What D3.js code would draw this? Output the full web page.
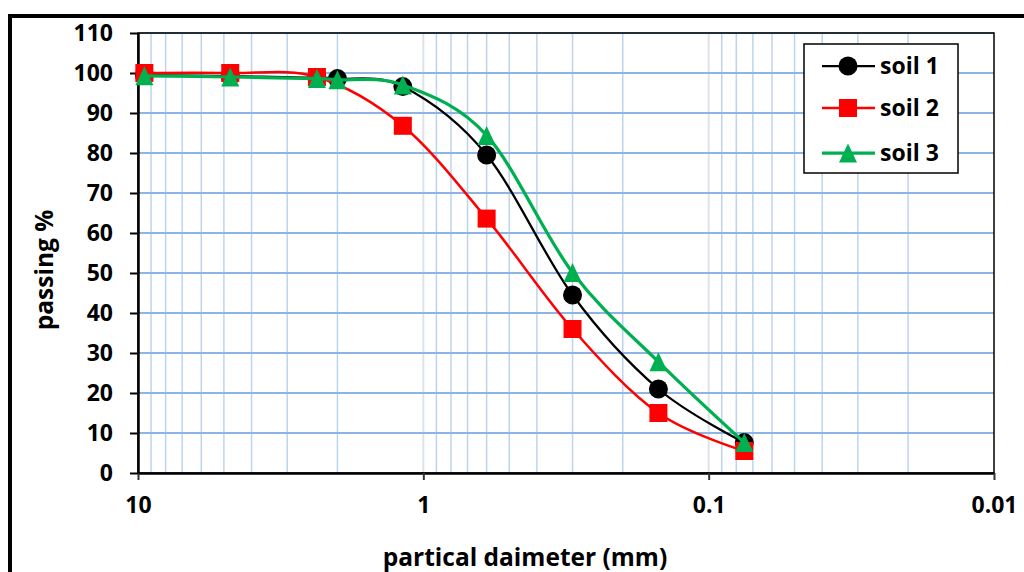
<!DOCTYPE html>
<html>
<head>
<meta charset="utf-8">
<script src="https://cdn.jsdelivr.net/npm/d3@7"></script>
<style>
  body { margin: 0; background: #fff; }
  text { font-family: "Open Sans", "Noto Sans", sans-serif; font-weight: bold; fill: #000; }
</style>
</head>
<body>
<svg id="chart" width="1024" height="572"></svg>
<script>
// sieve sizes (mm) and percent passing
var sieves = [9.5, 4.75, 2.36, 2.0, 1.18, 0.6, 0.3, 0.15, 0.075];
var soil1 = [99.5, 99.2, 98.8, 98.6, 96.6, 79.5, 44.5, 21, 7.6];
var soil2 = [100, 100, 99, null, 86.8, 63.6, 36, 15, 5.5];
var soil3 = [99.3, 99, 98.6, 98.3, 97, 84.4, 50.1, 27.8, 7.6];
var seriesNames = ["soil 1", "soil 2", "soil 3"];
var xTicks = [10, 1, 0.1, 0.01];
var yTicks = [0, 10, 20, 30, 40, 50, 60, 70, 80, 90, 100, 110];

var svg = d3.select("#chart");
var pLeft = 138, pRight = 994, pTop = 33, pBottom = 473;

var x = d3.scaleLog().domain([10, 0.01]).range([pLeft, pRight]);
var y = d3.scaleLinear().domain([0, 110]).range([pBottom, pTop]);

// outer chart frame (only top and left edges are inside the picture)
svg.append("path")
    .attr("d", "M10,580 L10,16 L1030,16")
    .attr("fill", "none")
    .attr("stroke", "#000")
    .attr("stroke-width", 4);

// vertical grid: minor lines inside each decade, majors light grey
var minor = [];
[1, 0.1, 0.01].forEach(function(base){
    for (var k = 2; k <= 9; k++) minor.push(k * base);
});
var grid = svg.append("g");
grid.selectAll(".vminor").data(minor).enter()
    .append("line")
    .attr("x1", function(d){return x(d)})
    .attr("x2", function(d){return x(d)})
    .attr("y1", pTop).attr("y2", pBottom)
    .attr("stroke", "#bdd4ee")
    .attr("stroke-width", 1.5);
grid.selectAll(".vmajor").data([1, 0.1]).enter()
    .append("line")
    .attr("x1", function(d){return x(d)})
    .attr("x2", function(d){return x(d)})
    .attr("y1", pTop).attr("y2", pBottom)
    .attr("stroke", "#dde3ea")
    .attr("stroke-width", 2);
grid.selectAll(".hgrid").data(yTicks.slice(1)).enter()
    .append("line")
    .attr("x1", pLeft).attr("x2", pRight)
    .attr("y1", function(d){return y(d)})
    .attr("y2", function(d){return y(d)})
    .attr("stroke", "#8eb4e3")
    .attr("stroke-width", 2);

// plot border
svg.append("rect")
    .attr("x", pLeft).attr("y", pTop)
    .attr("width", pRight - pLeft).attr("height", pBottom - pTop)
    .attr("fill", "none")
    .attr("stroke", "#000")
    .attr("stroke-width", 1.5);

// axes
var xAxis = svg.append("g")
    .attr("transform", "translate(0," + pBottom + ")")
    .call(d3.axisBottom(x).tickValues(xTicks).tickSize(7).tickSizeOuter(0)
        .tickFormat(function(d){return String(d)}));
xAxis.select(".domain").attr("stroke-width", 2.5);
xAxis.selectAll(".tick line").attr("stroke-width", 2).attr("stroke", "#333");
xAxis.selectAll(".tick text")
    .attr("font-size", 23).attr("y", 24).attr("dy", "0.71em")
    .attr("font-family", null);

var yAxis = svg.append("g")
    .attr("transform", "translate(" + pLeft + ",0)")
    .call(d3.axisLeft(y).tickValues(yTicks).tickSize(8).tickSizeOuter(0));
yAxis.select(".domain").attr("stroke-width", 2.5);
yAxis.selectAll(".tick line").attr("stroke-width", 2);
yAxis.selectAll(".tick text")
    .attr("font-size", 23).attr("x", -25)
    .attr("font-family", null);

// axis titles
svg.append("text")
    .attr("x", 525).attr("y", 566)
    .attr("text-anchor", "middle")
    .attr("font-size", 24.5)
    .text("partical daimeter (mm)");
svg.append("text")
    .attr("transform", "translate(53,270) rotate(-90)")
    .attr("text-anchor", "middle")
    .attr("font-size", 24.5)
    .text("passing %");

// series
var colors = ["#000000", "#ff0000", "#00b050"];
var widths = [2.25, 2.5, 3.25];
var values = [soil1, soil2, soil3];

var symbol = function(sel, i){
    if (i === 0) {
        sel.append("circle").attr("r", 9.5);
    } else if (i === 1) {
        sel.append("rect").attr("x", -9).attr("y", -9).attr("width", 18).attr("height", 18);
    } else {
        sel.append("path").attr("d", "M0,-9.5 L9,9.5 L-9,9.5 Z");
    }
};

var line = d3.line()
    .defined(function(d){return d[1] != null})
    .x(function(d){return x(d[0])})
    .y(function(d){return y(d[1])})
    .curve(d3.curveCardinal.tension(0));

values.forEach(function(vals, i){
    var pts = sieves.map(function(s, j){return [s, vals[j]]})
        .filter(function(d){return d[1] != null});
    var g = svg.append("g").attr("class", "series");
    g.append("path")
        .datum(pts)
        .attr("d", line)
        .attr("fill", "none")
        .attr("stroke", colors[i])
        .attr("stroke-width", widths[i]);
    g.selectAll(".pt").data(pts).enter()
        .append("g")
        .attr("fill", colors[i])
        .attr("transform", function(d){return "translate(" + x(d[0]) + "," + y(d[1]) + ")"})
        .each(function(){ symbol(d3.select(this), i); });
});

// legend
var legend = svg.append("g");
legend.append("rect")
    .attr("x", 804).attr("y", 44)
    .attr("width", 154).attr("height", 129)
    .attr("fill", "#fff")
    .attr("stroke", "#000")
    .attr("stroke-width", 1.5);
var entry = legend.selectAll(".legend-entry").data(seriesNames).enter()
    .append("g")
    .attr("transform", function(d, i){return "translate(0," + [66, 108, 153][i] + ")"});
entry.append("line")
    .attr("x1", 822).attr("x2", 875)
    .attr("stroke", function(d, i){return colors[i]})
    .attr("stroke-width", function(d, i){return widths[i]});
entry.append("g")
    .attr("transform", "translate(848,0)")
    .attr("fill", function(d, i){return colors[i]})
    .each(function(d, i){ symbol(d3.select(this), i); });
entry.append("text")
    .attr("x", 880).attr("dy", "0.36em")
    .attr("font-size", 23)
    .text(function(d){return d});
</script>
</body>
</html>
